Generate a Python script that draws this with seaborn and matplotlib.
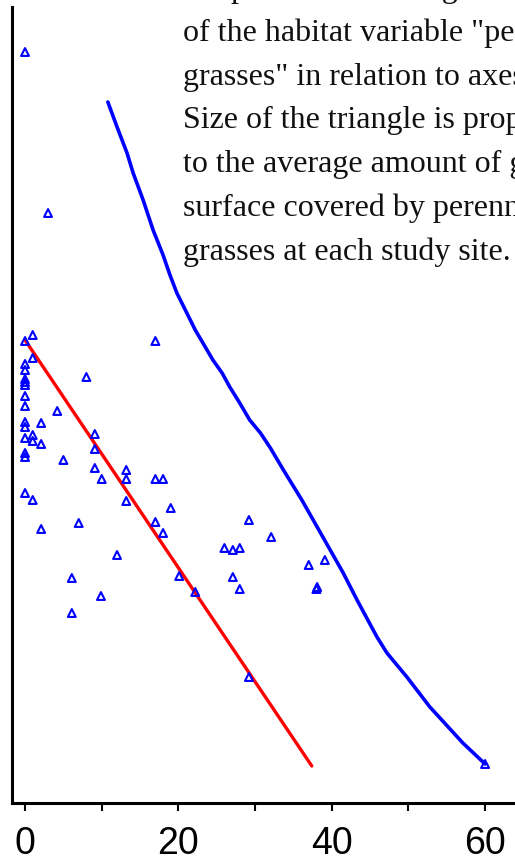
import matplotlib
matplotlib.use("Agg")
import matplotlib.pyplot as plt
import seaborn as sns
import pandas as pd
from matplotlib.ticker import MultipleLocator

# Site scores: position along the horizontal axis and the vertical axis
site_x = [0.0, 3.0, 1.0, 0.0, 17.0, 1.0, 0.0, 0.0, 0.0, 0.0,
          0.0, 8.0, 0.0, 0.0, 4.2, 0.0, 2.1, 0.0, 1.0, 0.0,
          1.0, 2.1, 9.1, 9.1, 0.0, 0.0, 5.0, 9.1, 13.2, 10.0,
          13.2, 17.0, 18.0, 0.0, 1.0, 13.2, 19.0, 17.0, 7.0, 18.0,
          2.1, 12.0, 29.2, 32.1, 26.0, 27.1, 28.0, 20.1, 22.2, 27.1,
          28.0, 37.0, 39.1, 38.0, 38.1, 29.2, 60.0, 6.1, 6.1, 9.9]
site_y = [75.1, 59.0, 46.8, 46.2, 46.2, 44.5, 43.9, 43.3, 42.4, 42.1,
          41.8, 42.6, 40.7, 39.7, 39.2, 38.1, 38.0, 37.6, 36.8, 36.5,
          36.2, 35.9, 36.9, 35.4, 35.0, 34.6, 34.3, 33.5, 33.3, 32.4,
          32.4, 32.4, 32.4, 31.0, 30.3, 30.2, 29.5, 28.1, 28.0, 27.0,
          27.4, 24.8, 28.3, 26.6, 25.5, 25.3, 25.5, 22.7, 21.1, 22.6,
          21.4, 23.8, 24.3, 21.4, 21.6, 12.6, 3.9, 22.5, 19.0, 20.7]

# Linear trend through the sites
trend_x = [0.0, 37.4]
trend_y = [46.3, 3.7]

# Outer boundary curve
edge_x = [10.8, 12.0, 13.3, 14.1, 15.4, 16.7, 18.0, 18.9, 19.8, 21.1,
          22.2, 23.2, 24.5, 25.7, 26.7, 28.0, 29.3, 30.7, 32.0, 33.7,
          36.1, 38.1, 39.8, 41.5, 43.3, 45.9, 47.2, 49.8, 52.8, 57.1, 60.0]
edge_y = [70.1, 67.6, 65.0, 63.0, 60.3, 57.3, 54.8, 52.8, 51.0, 49.0,
          47.3, 46.0, 44.3, 43.0, 41.6, 40.0, 38.3, 37.0, 35.5, 33.3,
          30.3, 27.6, 25.3, 23.0, 20.3, 16.6, 15.0, 12.6, 9.6, 6.0, 3.9]

x_ticks = [0, 20, 40, 60]

caption_lines = [
    "Response of the weighted average",
    "of the habitat variable \"perennial",
    "grasses\" in relation to axes 1 and 2.",
    "Size of the triangle is proportional",
    "to the average amount of ground",
    "surface covered by perennial",
    "grasses at each study site.",
]

sns.set_style("ticks")
plt.rcParams["font.family"] = ["Liberation Sans", "DejaVu Sans"]

W, H = 515, 864
fig = plt.figure(figsize=(W / 100, H / 100), dpi=100)
ax = fig.add_axes([12 / W, 61 / H, 1 - 12 / W, (803 - 7) / H])

sites = pd.DataFrame({"x": site_x, "y": site_y})
sns.scatterplot(data=sites, x="x", y="y", marker="^", s=32,
                facecolors="none", edgecolors="#0000ff", linewidth=1.5,
                ax=ax, zorder=3)
sns.lineplot(x=trend_x, y=trend_y, color="#ff0000", lw=2.4,
             estimator=None, ax=ax, zorder=2)
sns.lineplot(x=edge_x, y=edge_y, color="#0000ff", lw=2.6,
             estimator=None, sort=False, ax=ax, zorder=2)

ax.set_xlim(-1.7, 63.9)
ax.set_ylim(0, 79.6)
ax.set_xlabel("")
ax.set_ylabel("")
ax.set_yticks([])
ax.set_xticks(x_ticks)
ax.set_xticklabels([str(t) for t in x_ticks])
ax.xaxis.set_minor_locator(MultipleLocator(10))
ax.tick_params(axis="x", which="both", direction="out", length=5.8,
               width=1.5, color="black")
ax.tick_params(axis="x", which="major", labelsize=27, pad=11,
               labelcolor="black")
for side in ("top", "right"):
    ax.spines[side].set_visible(False)
for side in ("left", "bottom"):
    ax.spines[side].set_linewidth(2.2)
    ax.spines[side].set_color("black")

# Figure caption running alongside the plot
baseline0 = -3
spacing = 43.8
for i, line in enumerate(caption_lines):
    py = baseline0 + i * spacing
    fig.text(183 / W, 1 - py / H, line, family=["Liberation Serif", "DejaVu Serif"],
             fontsize=23, color="#111111", ha="left", va="baseline")

fig.savefig("out.png", dpi=100)
